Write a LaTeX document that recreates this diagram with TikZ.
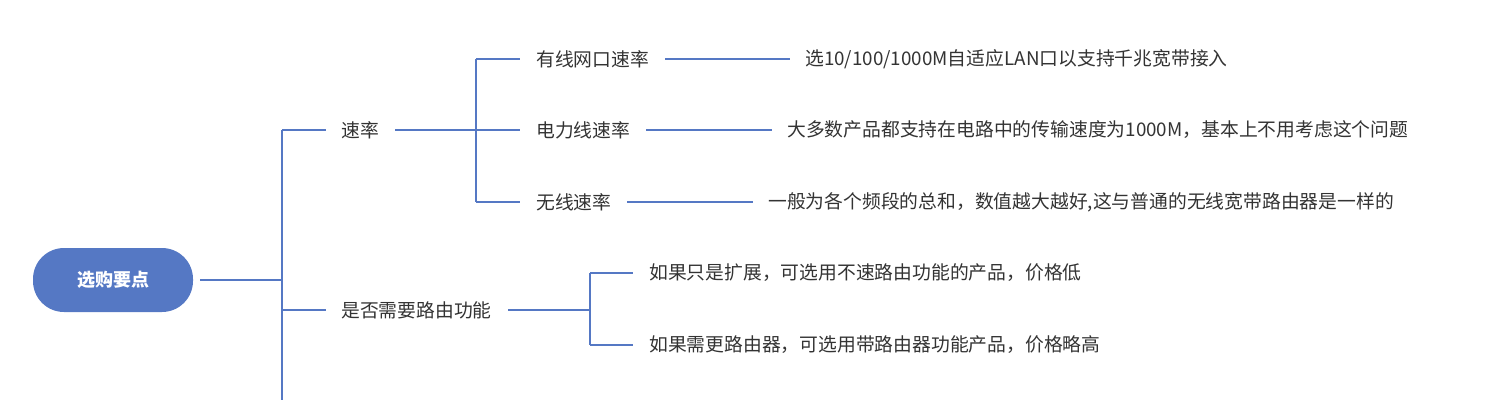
\documentclass[tikz,border=0pt]{standalone}
\usepackage{fontspec}
\newfontfamily\cjk{Noto Sans CJK SC}
\usetikzlibrary{positioning}
\definecolor{branch}{HTML}{5578C4}
\definecolor{txt}{HTML}{333333}
\tikzset{
  rootbox/.style={rounded corners=31pt, fill=branch, text=white, minimum width=160pt, minimum height=64pt, font=\cjk\bfseries\fontsize{18}{21}\selectfont},
  label/.style={anchor=west, inner sep=0pt, text=txt, font=\cjk\fontsize{18.8}{22}\selectfont},
  link/.style={draw=branch, line width=2.2pt}
}
\begin{document}
\begin{tikzpicture}[x=1pt,y=-1pt]
        \useasboundingbox (0,0) rectangle (1499,400);

        % root and first level
        \node[rootbox] (root) at (113,280) {选购要点};
        \node[label] (rate) at (341,130) {速率};
        \node[label] (route) at (341,310) {是否需要路由功能};

        \coordinate (j1) at (282,280);
        \coordinate (j1top) at (282,130);
        \coordinate (j1bot) at (282,400);
        \draw[link] (200,280) -- (j1);
        \draw[link] (j1top) -- (j1bot);
        \draw[link] (j1top) -- (326,130);
        \draw[link] (282,310) -- (326,310);

        % rates
        \node[label] (wired) at (536,59) {有线网口速率};
        \node[label] (plc) at (536,130) {电力线速率};
        \node[label] (wifi) at (536,202) {无线速率};
        \node[label] (wiredd) at (805,59) {选10/100/1000M自适应LAN口以支持千兆宽带接入};
        \node[label] (plcd) at (787,130) {大多数产品都支持在电路中的传输速度为1000M，基本上不用考虑这个问题};
        \node[label] (wifid) at (768,202) {一般为各个频段的总和，数值越大越好,这与普通的无线宽带路由器是一样的};

        \coordinate (j2) at (476,130);
        \draw[link] (395,130) -- (j2);
        \draw[link] (476,59) -- (476,202);
        \foreach \n in {wired,plc,wifi}
            \draw[link] (476,0 |- \n.west) -- (520,0 |- \n.west);
        \draw[link] (665,59) -- (790,59);
        \draw[link] (646,130) -- (772,130);
        \draw[link] (627,202) -- (753,202);

        % routing
        \node[label] (ext) at (649,273) {如果只是扩展，可选用不速路由功能的产品，价格低};
        \node[label] (rtr) at (649,345) {如果需更路由器，可选用带路由器功能产品，价格略高};
        \draw[link] (508,310) -- (590,310);
        \draw[link] (590,273) -- (590,345);
        \draw[link] (590,273) -- (633,273);
        \draw[link] (590,345) -- (633,345);
    \end{tikzpicture}
\end{document}
